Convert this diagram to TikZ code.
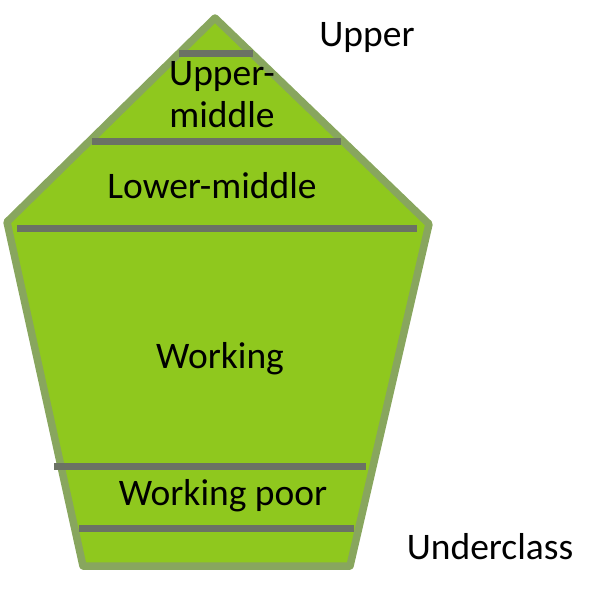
\documentclass[tikz,border=0pt]{standalone}
\usepackage{fontspec}
\setmainfont{Carlito}
\usepackage{tikz}
\definecolor{layerfill}{HTML}{8FC81E}
\definecolor{layeredge}{HTML}{88A65E}
\definecolor{bargray}{HTML}{6B7264}
\tikzstyle{pyramid} = [fill=layerfill, 
draw=layeredge, 
line width=7.5pt, 
line join=round]
\tikzstyle{divider} = [draw=bargray, 
line width=7pt]
\tikzstyle{label} = [inner sep=0pt, 
align=center, 
font=\fontsize{37.5}{42}\selectfont]

\begin{document}
\begin{tikzpicture}[x=1pt, y=-1pt]
\useasboundingbox (0,0) rectangle (596,592);

\coordinate (top) at (215,18);
\coordinate (left) at (7,222);
\coordinate (right) at (429,224);
\coordinate (botleft) at (83,566);
\coordinate (botright) at (350,566);
\draw [pyramid] (top) -- (right) -- (botright) -- (botleft) -- (left) -- cycle;

% class boundaries
\draw [divider] (179,53) -- (253,53);
\draw [divider] (92,141) -- (341,141);
\draw [divider] (17,228) -- (417,228);
\draw [divider] (54,466) -- (366,466);
\draw [divider] (79,528) -- (354,528);

\node (upper) [label] at (367,37) {Upper};
\node (uppermid) [label] at (222,95) {Upper-\\middle};
\node (lowermid) [label] at (212,186) {Lower-middle};
\node (working) [label] at (220,359) {Working};
\node (workpoor) [label] at (223,496) {Working poor};
\node (under) [label] at (490,547) {Underclass};

\end{tikzpicture}
\end{document}
